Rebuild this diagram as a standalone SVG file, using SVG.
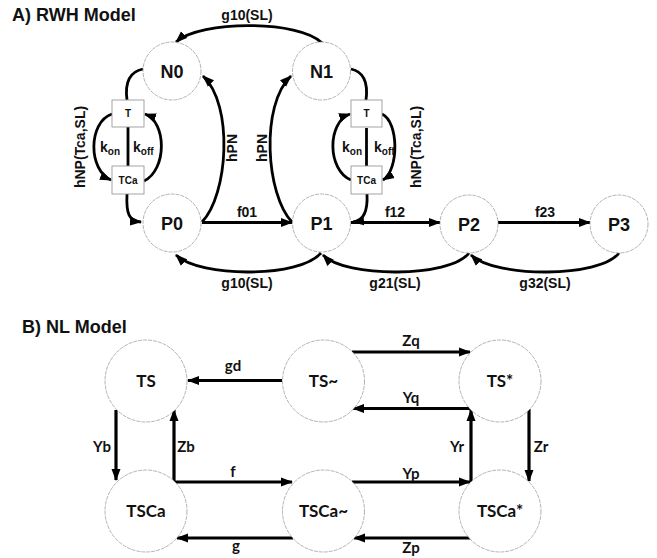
<svg xmlns="http://www.w3.org/2000/svg" width="657" height="558" viewBox="0 0 657 558">
<defs>
<marker id="ah" markerUnits="userSpaceOnUse" markerWidth="12" markerHeight="10" refX="11" refY="5" orient="auto">
<path d="M0,0.5 L12,5 L0,9.5 z" fill="#000"/>
</marker>
<style>
.node{fill:#fff;stroke:#9a9a9a;stroke-width:0.75;stroke-dasharray:4 1}
.box{fill:#fff;stroke:#9a9a9a;stroke-width:0.9}
.ca{fill:none;stroke:#000;stroke-width:2.8;marker-end:url(#ah)}
.cn{fill:none;stroke:#000;stroke-width:2.8}
.cb{fill:none;stroke:#000;stroke-width:3.2;marker-end:url(#ah)}
.ta{font-family:"Liberation Sans",Arial,sans-serif;font-weight:bold;fill:#111}
.tb{font-family:Lato,"Liberation Sans",sans-serif;font-weight:bold;fill:#111}
.nA{font-size:18px;text-anchor:middle}
.eA{font-size:14px;text-anchor:middle}
.bx{font-size:10px;text-anchor:middle}
.nB{font-size:17px;text-anchor:middle}
.eB{font-size:15px;text-anchor:middle}
</style>
</defs>
<rect width="657" height="558" fill="#fff"/>

<text class="ta" x="12" y="21" font-size="18">A) RWH Model</text>
<text class="ta" x="22" y="333" font-size="18">B) NL Model</text>

<g id="connectors">
<!-- Part A -->
<path class="ca" d="M322,43 C300,20 200,20 176,42"/>
<path class="ca" d="M321,253 C300,278 200,278 176,255"/>
<path class="ca" d="M469,253 C450,278 345,278 323,255"/>
<path class="ca" d="M619,253 C600,278 495,278 471,255"/>
<path class="ca" d="M202,222.5 L292,222.5"/>
<path class="ca" d="M351,222.5 L440,222.5"/>
<path class="ca" d="M498,222.5 L590,222.5"/>
<path class="ca" d="M202,222 C228,195 234,105 203,76"/>
<path class="ca" d="M292,222 C266,195 260,105 291,76"/>
<!-- left T/TCa -->
<path class="cn" d="M143,69 C128,72 125,85 127,100"/>
<path class="ca" d="M127,194 C126,214 129,221 141,222"/>
<path class="cn" d="M128,127 L128,166" stroke-width="2.4"/>
<path class="ca" d="M112,114 C88,122 88,170 111,180"/>
<path class="ca" d="M144,181 C167,170 167,122 145,114"/>
<!-- right T/TCa -->
<path class="cn" d="M351,69 C365,72 368,85 366,100"/>
<path class="ca" d="M367,194 C368,213 363,221 353,222"/>
<path class="cn" d="M366.5,128 L366.5,166" stroke-width="2.4"/>
<path class="ca" d="M351,180 C327,170 327,122 350,114"/>
<path class="ca" d="M382,114 C399,122 399,170 383,180"/>
<!-- Part B -->
<path class="cb" d="M282,380.5 L188,380.5"/>
<path class="cb" d="M352,352 L470,352"/>
<path class="cb" d="M471,408.5 L353,408.5"/>
<path class="cb" d="M471,482 L471,410"/>
<path class="cb" d="M529,409 L529,481"/>
<path class="cb" d="M352,482 L470,482"/>
<path class="cb" d="M471,538 L354,538"/>
<path class="cb" d="M293,538 L177,538"/>
<path class="cb" d="M174,482 L292,482"/>
<path class="cb" d="M174,483.5 L174,410"/>
<path class="cb" d="M116,410 L116,480"/>
</g>

<g id="labels">
<text class="ta eA" x="247" y="20">g10(SL)</text>
<text class="ta eA" x="247" y="288">g10(SL)</text>
<text class="ta eA" x="395" y="288">g21(SL)</text>
<text class="ta eA" x="545" y="288">g32(SL)</text>
<text class="ta eA" x="247" y="217">f01</text>
<text class="ta eA" x="395" y="217">f12</text>
<text class="ta eA" x="545" y="217">f23</text>
<text class="ta eA" transform="translate(237,148) rotate(-90)">hPN</text>
<text class="ta eA" transform="translate(267,148) rotate(-90)">hPN</text>
<text class="ta eA" transform="translate(85,147) rotate(-90)">hNP(Tca,SL)</text>
<text class="ta eA" transform="translate(421,147) rotate(-90)">hNP(Tca,SL)</text>
<text class="ta" x="100" y="152" font-size="14">k<tspan font-size="10" dy="3">on</tspan></text>
<text class="ta" x="133" y="152" font-size="14">k<tspan font-size="10" dy="3">off</tspan></text>
<text class="ta" x="342" y="152" font-size="14">k<tspan font-size="10" dy="3">on</tspan></text>
<text class="ta" x="374" y="152" font-size="14">k<tspan font-size="10" dy="3">off</tspan></text>
<text class="tb eB" x="233" y="371">gd</text>
<text class="tb eB" x="102" y="452">Yb</text>
<text class="tb eB" x="186" y="452">Zb</text>
<text class="tb eB" x="233" y="477">f</text>
<text class="tb eB" x="236" y="551">g</text>
<text class="tb eB" x="411" y="346">Zq</text>
<text class="tb eB" x="411" y="403">Yq</text>
<text class="tb eB" x="457" y="452">Yr</text>
<text class="tb eB" x="541" y="452">Zr</text>
<text class="tb eB" x="411" y="479">Yp</text>
<text class="tb eB" x="411" y="553">Zp</text>
</g>

<g id="N0"><circle class="node" cx="172" cy="71" r="29"/><text class="ta nA" x="172" y="78">N0</text></g>
<g id="N1"><circle class="node" cx="321.5" cy="71" r="29"/><text class="ta nA" x="321.5" y="78">N1</text></g>
<g id="P0"><circle class="node" cx="172" cy="223" r="29"/><text class="ta nA" x="172" y="230">P0</text></g>
<g id="P1"><circle class="node" cx="321.5" cy="223" r="29"/><text class="ta nA" x="321.5" y="230">P1</text></g>
<g id="P2"><circle class="node" cx="469" cy="224" r="29"/><text class="ta nA" x="469" y="231">P2</text></g>
<g id="P3"><circle class="node" cx="619" cy="224" r="29"/><text class="ta nA" x="619" y="231">P3</text></g>
<g id="T_left"><rect class="box" x="112" y="100" width="32" height="27"/><text class="ta bx" x="128" y="117">T</text></g>
<g id="TCa_left"><rect class="box" x="112" y="166" width="32" height="28"/><text class="ta bx" x="128" y="184">TCa</text></g>
<g id="T_right"><rect class="box" x="351" y="100" width="31" height="27"/><text class="ta bx" x="366.5" y="117">T</text></g>
<g id="TCa_right"><rect class="box" x="351" y="166" width="31" height="28"/><text class="ta bx" x="366.5" y="184">TCa</text></g>

<g id="TS"><circle class="node" cx="146" cy="381" r="41"/><text class="tb nB" x="146" y="387">TS</text></g>
<g id="TS_tilde"><circle class="node" cx="323.5" cy="381" r="41"/><text class="tb nB" x="323.5" y="387">TS~</text></g>
<g id="TS_star"><circle class="node" cx="500" cy="381" r="41"/><text class="tb nB" x="500" y="387">TS*</text></g>
<g id="TSCa"><circle class="node" cx="146" cy="511" r="41"/><text class="tb nB" x="146" y="517">TSCa</text></g>
<g id="TSCa_tilde"><circle class="node" cx="323.5" cy="511" r="41"/><text class="tb nB" x="323.5" y="517">TSCa~</text></g>
<g id="TSCa_star"><circle class="node" cx="500" cy="511" r="41"/><text class="tb nB" x="500" y="517">TSCa*</text></g>
</svg>
